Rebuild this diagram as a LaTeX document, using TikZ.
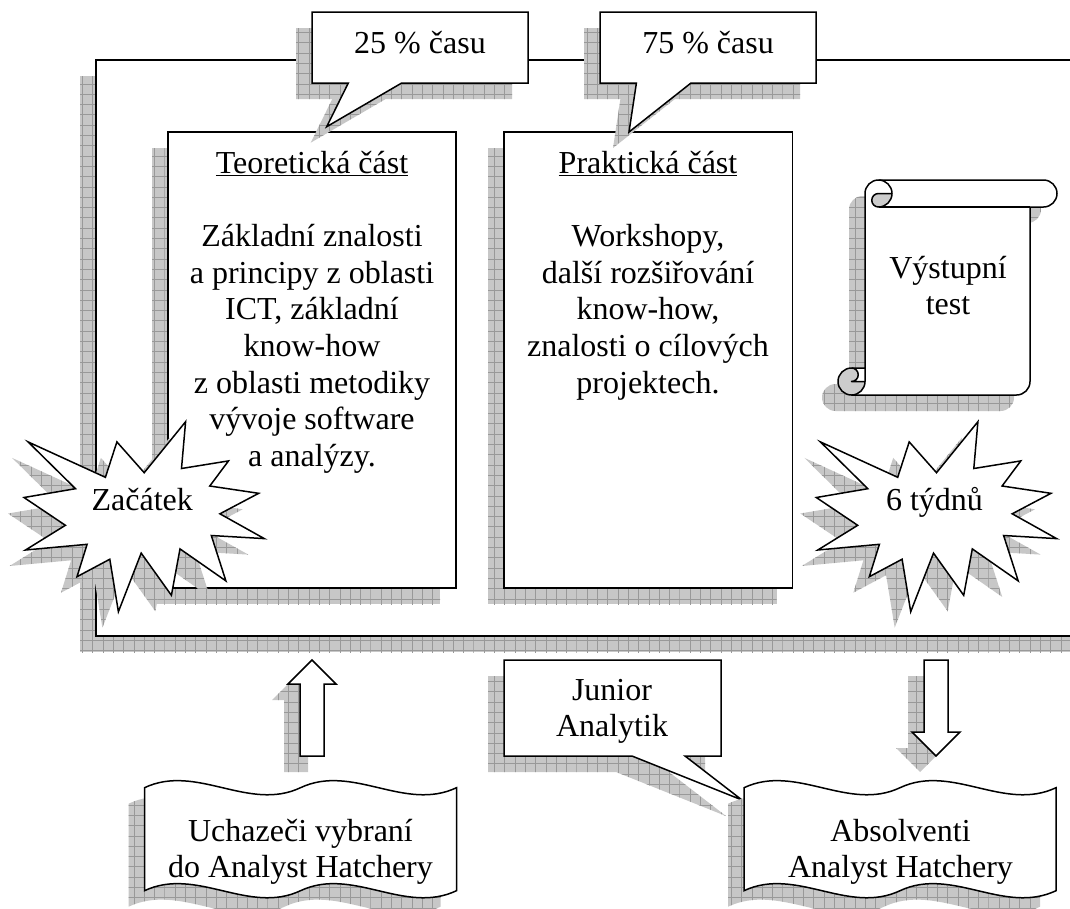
\documentclass[tikz,border=0pt]{standalone}
\usepackage{fontspec}
\setmainfont{Liberation Serif}
\usetikzlibrary{patterns}

% grid texture used inside the drop shadows
\pgfdeclarepatternformonly{shgrid}{\pgfqpoint{-0.5pt}{-0.5pt}}{\pgfqpoint{10.8pt}{10.8pt}}{\pgfqpoint{10.3pt}{10.3pt}}{%
  \pgfsetlinewidth{0.8pt}%
  \pgfpathmoveto{\pgfqpoint{0pt}{0pt}}%
  \pgfpathlineto{\pgfqpoint{10.3pt}{0pt}}%
  \pgfpathmoveto{\pgfqpoint{0pt}{0pt}}%
  \pgfpathlineto{\pgfqpoint{0pt}{10.3pt}}%
  \pgfusepath{stroke}%
}

\definecolor{shfill}{gray}{0.78}
\definecolor{shline}{gray}{0.6}
\definecolor{curlgray}{gray}{0.8}

\tikzset{
  shadowed/.style={
    preaction={draw=none, fill=shfill, transform canvas={shift={(-16pt,-16pt)}}},
    preaction={draw=none, pattern=shgrid, pattern color=shline, transform canvas={shift={(-16pt,-16pt)}}}
  },
  fig/.style={draw=black, fill=white, line width=1.5pt, line join=miter, shadowed},
  figfill/.style={draw=none, fill=white, shadowed},
  outline/.style={draw=black, line width=1.5pt, line join=round},
  % multi-line texts are placed by the baseline of their last line
  txt/.style={font=\fontsize{32}{36.7}\selectfont, align=center, inner sep=0pt, anchor=base},
}

% twelve-point explosion outline
\def\burstpts{(144.2,472.7) -- (185.6,421.7) -- (181.5,468.5) -- (228.5,460.9) -- (209.8,486.0) -- (258.7,493.3) -- (219.9,513.8) -- (264.3,538.6) -- (211.3,535.5) -- (225.9,580.9) -- (180.0,548.9) -- (171.4,595.3) -- (141.2,553.1) -- (118.4,611.7) -- (109.8,559.2) -- (77.0,576.7) -- (87.1,544.3) -- (25.5,550.0) -- (65.4,525.3) -- (24.0,497.5) -- (75.5,488.7) -- (28.1,441.9) -- (105.4,477.3) -- (116.9,441.9) -- cycle}

% document shape with a double wave on top and bottom
\def\wavepts{(144.5,787.7) .. controls (196.5,763.2) and (248.5,812.2) .. (300.5,787.7) .. controls (352.5,763.2) and (404.5,812.2) .. (456.5,787.7) -- (456.5,890.7) .. controls (404.5,915.2) and (352.5,866.2) .. (300.5,890.7) .. controls (248.5,915.2) and (196.5,866.2) .. (144.5,890.7) -- cycle}

\begin{document}
\begin{tikzpicture}[x=1pt, y=-1pt]
\useasboundingbox (0,0) rectangle (1070,908);
\clip (0,0) rectangle (1070,908);

% outer frame of the course
\path[fig] (96,60) rectangle (1110,636);

% the two course parts
\path[fig] (168,132) rectangle (456,588);
\path[fig] (504,132) rectangle (792.7,588);
\node[txt] (teo) at (312,466.6) {\underline{Teoretická část}\\[36.7pt]
  Základní znalosti\\a principy z oblasti\\ICT, základní\\know-how\\z oblasti metodiky\\vývoje software\\a analýzy.};
\node[txt] (prak) at (648,393.2) {\underline{Praktická část}\\[36.7pt]
  Workshopy,\\další rozšiřování\\know-how,\\znalosti o cílových\\projektech.};

% time share callouts
\path[fig] (312,12) -- (528,12) -- (528,83) -- (401.7,83) -- (326.7,126.7) -- (348.3,83) -- (312,83) -- cycle;
\node[txt] (p25) at (420,53.5) {25 \% času};
\path[fig] (600,12) -- (816,12) -- (816,83) -- (691,83) -- (629,132) -- (636.4,83) -- (600,83) -- cycle;
\node[txt] (p75) at (708,53.5) {75 \% času};

% final test scroll
\path[figfill] (865,368) -- (865,193.5) arc[start angle=180, delta angle=90, radius=13.5]
  -- (1043.5,180) arc[start angle=270, delta angle=180, radius=13.5]
  -- (1030,207) -- (1030,381.5) arc[start angle=0, delta angle=90, radius=13.5]
  -- (851.5,395) arc[start angle=90, delta angle=180, radius=13.5] -- cycle;
\path[fill=curlgray] (892,193.5) arc[start angle=0, delta angle=90, radius=13.5]
  arc[start angle=90, delta angle=180, radius=6.75] -- cycle;
\path[fill=curlgray] (865,381.5) arc[start angle=0, delta angle=270, radius=13.5]
  arc[start angle=270, delta angle=180, radius=6.75] -- cycle;
\path[outline] (865,368) -- (865,193.5) arc[start angle=180, delta angle=90, radius=13.5]
  -- (1043.5,180) arc[start angle=270, delta angle=180, radius=13.5]
  -- (1030,207) -- (1030,381.5) arc[start angle=0, delta angle=90, radius=13.5]
  -- (851.5,395) arc[start angle=90, delta angle=180, radius=13.5] -- cycle;
\path[outline] (878.5,180) arc[start angle=270, delta angle=180, radius=13.5]
  arc[start angle=90, delta angle=180, radius=6.75] -- (892,193.5);
\path[outline] (1030,207) -- (878.5,207);
\path[outline] (851.5,368) arc[start angle=270, delta angle=180, radius=6.75] -- (865,381.5);
\path[outline] (851.5,395) arc[start angle=90, delta angle=-90, radius=13.5] -- (865,368);
\node[txt] (test) at (948,314.7) {Výstupní\\test};

% start and duration bursts
\path[fig] \burstpts;
\node[txt] (start) at (142.2,510) {Začátek};
\begin{scope}[xshift=792.3pt]
  \path[fig] \burstpts;
\end{scope}
\node[txt] (weeks) at (934.5,510) {6 týdnů};

% entry and exit arrows
\path[fig] (312,660) -- (336,684) -- (324,684) -- (324,756) -- (300,756) -- (300,684) -- (288,684) -- cycle;
\path[fig] (924,660) -- (948,660) -- (948,732) -- (960,732) -- (936,756) -- (912,732) -- (924,732) -- cycle;

% role callout
\path[fig] (504,660) -- (721,660) -- (721,756) -- (685,756) -- (742,800) -- (632,756) -- (504,756) -- cycle;
\node[txt] (junior) at (612,736.7) {Junior\\Analytik};

% candidates and graduates
\path[fig] \wavepts;
\node[txt] (cand) at (300.5,877.7) {Uchazeči vybraní\\do Analyst Hatchery};
\begin{scope}[xshift=599.5pt]
  \path[fig] \wavepts;
\end{scope}
\node[txt] (grad) at (900.5,877.7) {Absolventi\\Analyst Hatchery};
\end{tikzpicture}
\end{document}
